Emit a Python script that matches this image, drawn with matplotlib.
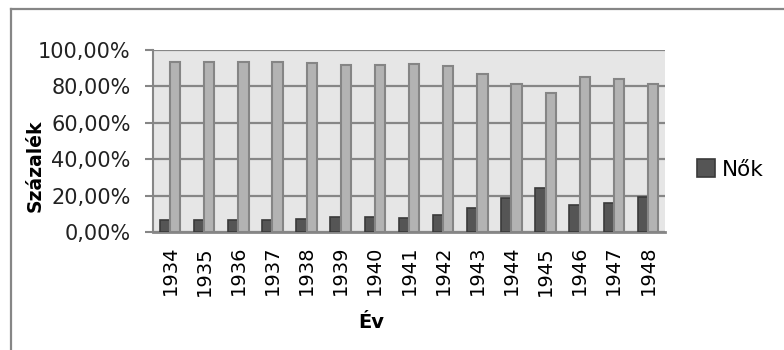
import matplotlib
matplotlib.use("Agg")
import matplotlib.pyplot as plt
from matplotlib.lines import Line2D
from matplotlib.patches import Patch
from matplotlib.ticker import FuncFormatter

# adatok
evek = [1934, 1935, 1936, 1937, 1938, 1939, 1940, 1941, 1942, 1943, 1944, 1945, 1946, 1947, 1948]
nok = [6.4, 6.4, 6.4, 6.4, 7.0, 8.2, 8.2, 7.6, 9.5, 13.1, 18.9, 24.2, 14.6, 16.0, 19.4]
ferfiak = [93.6, 93.6, 93.6, 93.6, 93.0, 91.8, 91.8, 92.3, 91.0, 86.7, 81.1, 76.2, 85.3, 83.9, 81.1]

plt.rcParams['font.family'] = ['DejaVu Sans']

fig = plt.figure(figsize=(7.84, 3.5), dpi=100)
ax = fig.add_axes([153 / 784, 1 - 232 / 350, (665 - 153) / 784, (232 - 50) / 350])
ax.set_facecolor('#e6e6e6')

x = list(range(len(evek)))
w = 0.3
ax.bar([i - w / 2 for i in x], nok, width=w, color='#555555', edgecolor='#3a3a3a', linewidth=1.2, zorder=3)
ax.bar([i + w / 2 for i in x], ferfiak, width=w, color='#b3b3b3', edgecolor='#858585', linewidth=1.5, zorder=3)

ax.set_xlim(-0.5, len(evek) - 0.5)
ax.set_ylim(0, 100)
ax.set_yticks([0, 20, 40, 60, 80, 100])
ax.yaxis.set_major_formatter(FuncFormatter(lambda v, p: f"{v:.2f}".replace('.', ',') + '%'))
ax.set_xticks(x)
ax.set_xticklabels([str(e) for e in evek], rotation=90, fontsize=14)
ax.tick_params(axis='x', length=0, pad=10)
ax.tick_params(axis='y', length=6, width=1.5, color='#868686', labelsize=15, pad=10, labelcolor='#222222')
ax.grid(axis='y', color='#868686', linewidth=1.6, zorder=1)
ax.set_axisbelow(True)
for s in ['top', 'right']:
    ax.spines[s].set_visible(False)
ax.spines['left'].set_color('#868686')
ax.spines['left'].set_linewidth(1.5)
ax.spines['bottom'].set_color('#868686')
ax.spines['bottom'].set_linewidth(2)

fig.text(35 / 784, 1 - 166 / 350, 'Százalék', rotation=90, fontsize=13.5, fontweight='bold',
         ha='center', va='center')
fig.text(371 / 784, 1 - 323 / 350, 'Év', fontsize=14, fontweight='bold', ha='center', va='center')

fig.legend(handles=[Patch(facecolor='#555555', edgecolor='#3a3a3a', linewidth=1.2)], labels=['Nők'],
           loc='center left', bbox_to_anchor=(697 / 784, 1 - 169.5 / 350), frameon=False,
           fontsize=15.5, handlelength=0.85, handleheight=0.85, handletextpad=0.3, borderpad=0,
           borderaxespad=0)

# keret
fig.add_artist(Line2D([11 / 784, 11 / 784], [0, 1 - 9 / 350], color='#868686', linewidth=1.6))
fig.add_artist(Line2D([11 / 784, 1], [1 - 9 / 350, 1 - 9 / 350], color='#868686', linewidth=1.6))

fig.savefig('out.png', dpi=100)
